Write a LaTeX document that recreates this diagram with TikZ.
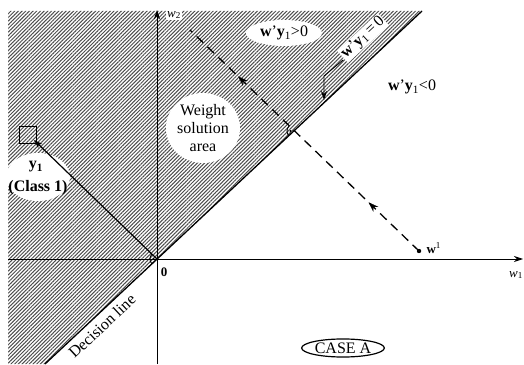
\documentclass[tikz,border=0pt]{standalone}
\usepackage{fontspec}
\setmainfont{Liberation Serif}
\usetikzlibrary{arrows.meta,patterns.meta,decorations.markings,shapes.geometric}
\tikzset{
  lbl/.style={font=\fontsize{16}{19}\selectfont},
  axlbl/.style={font=\fontsize{13}{15}\selectfont},
  hatch/.style={pattern={Lines[angle=45,distance=2.6pt,line width=1pt]},pattern color=black!70},
  movearrows/.style={decorate,decoration={markings,
    mark=at position 0.22 with {\arrow{Stealth[length=10pt,width=7pt]}},
    mark=at position 0.79 with {\arrow{Stealth[length=10pt,width=7pt]}}}}
}
\newcommand{\wy}{\textbf{w}'\textbf{y}\textsubscript{1}}
\newcommand{\perpmark}[1]{\draw[line width=0.9pt] (#1) ++(136:7) arc[start angle=136,end angle=223,radius=7];
  \fill (#1) ++(180:3.5) circle (1.2);}
\begin{document}
\begin{tikzpicture}[x=1pt,y=1pt,>={Stealth[length=9pt,width=6pt]}]
\useasboundingbox (0,0) rectangle (524,364);
\coordinate (O) at (157,105);
\coordinate (dlo) at (45,0);
\coordinate (dhi) at (422,353);
\coordinate (P) at (294,233);
\coordinate (W1) at (419,113);
\coordinate (dend) at (190,334);
\coordinate (y1tip) at (34,224);
\coordinate (lead) at (343,304);
\coordinate (bend) at (324,288);
\coordinate (hit) at (324,264);
\pattern[hatch] (8,0) -- (8,353) -- (dhi) -- (dlo) -- cycle;
\fill[white] (203,236) ellipse [x radius=37,y radius=35];
\fill[white] (38,187) ellipse [x radius=32,y radius=24];
\fill[white] (284,331) ellipse [x radius=38,y radius=13];
\draw[->,line width=0.9pt] (8,105) -- (523,105);
\draw[->,line width=0.9pt] (157,0) -- (157,354);
\draw[line width=1.3pt] (dlo) -- (dhi);
\node[draw,line width=0.9pt,minimum size=17pt,inner sep=0pt] (sq) at (28,229) {};
\draw[->,line width=1.2pt] (O) -- (y1tip);
\draw[line width=1.3pt,dash pattern=on 9pt off 6pt] (W1) -- (dend);
\path[movearrows] (W1) -- (dend);
\fill (W1) circle (2.2);
\perpmark{O}
\perpmark{P}
\node[lbl,align=center] (wsa) at (203,236) {Weight\\[-1pt]solution\\[-1pt]area};
\node[lbl,font=\fontsize{16}{19}\selectfont\bfseries] (y1lbl) at (36,197) {y\textsubscript{1}};
\node[lbl,font=\fontsize{16}{19}\selectfont\bfseries] (cls) at (38,176) {(Class 1)};
\node[lbl] (pos) at (284,331) {\wy>0};
\node[lbl,fill=white,rotate=43,inner sep=1pt] (eq) at (363,326) {\wy\,=\,0};
\draw[->,line width=0.9pt] (lead) -- (bend) -- (hit);
\node[lbl] (neg) at (412,277) {\wy<0};
\node[axlbl,fill=white,inner sep=1pt] (w2lbl) at (174,349) {\textit{w}\textsubscript{2}};
\node[axlbl] (w1lbl) at (516,89) {\textit{w}\textsubscript{1}};
\node[axlbl] (zero) at (164,92) {\textbf{0}};
\node[axlbl,anchor=west] (wone) at (423,116) {\textbf{w}\textsuperscript{1}};
\node[lbl,rotate=43] (dl) at (102,38) {Decision line};
\node[lbl,draw,line width=1.2pt,ellipse,inner sep=1pt] (case) at (343,16) {CASE A};
\end{tikzpicture}
\end{document}
